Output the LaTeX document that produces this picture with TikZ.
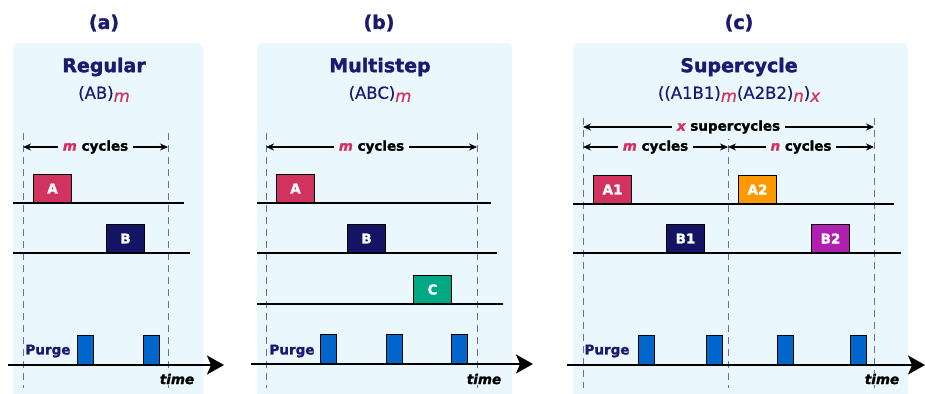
\documentclass[tikz,border=0pt]{standalone}
\usepackage{fontspec}
\setmainfont{DejaVu Sans}[BoldFeatures={FakeBold=1.6}, BoldItalicFeatures={FakeBold=1.6}, UprightFeatures={FakeBold=0.6}, ItalicFeatures={FakeBold=0.6}]
\usetikzlibrary{arrows.meta}
\definecolor{panelbg}{RGB}{234,248,253}
\definecolor{navy}{RGB}{26,26,112}
\definecolor{crim}{RGB}{210,50,95}
\definecolor{bnavy}{RGB}{20,20,100}
\definecolor{cgreen}{RGB}{0,168,132}
\definecolor{aorange}{RGB}{255,153,0}
\definecolor{bpurple}{RGB}{176,32,176}
\definecolor{pblue}{RGB}{0,102,204}
\definecolor{dashcol}{RGB}{100,110,180}
\newcommand{\sub}[1]{\raisebox{-3pt}{\textcolor{crim}{\itshape #1}}}
\newcommand{\cnt}[1]{\textcolor{crim}{\itshape #1}}
\begin{document}
\begin{tikzpicture}[x=1pt, y=-1pt,
		every node/.style={font=\bfseries\fontsize{13.5}{16}\selectfont},
		panel/.style={fill=panelbg, rounded corners=6pt},
		heading/.style={text=navy, font=\bfseries\fontsize{19}{22}\selectfont},
		formula/.style={text=navy, font=\fontsize{16.5}{19}\selectfont},
		pulse/.style={draw=black, line width=1pt, anchor=south west, minimum width=38pt, minimum height=28pt, inner sep=0pt, text=white},
		purge/.style={draw=black, line width=1pt, fill=pblue, anchor=south west, minimum width=16pt, minimum height=29pt, inner sep=0pt},
		track/.style={line width=2pt},
		limit/.style={draw=dashcol, dash pattern=on 7pt off 5pt, line width=0.9pt},
		span/.style={{Stealth[length=8pt,width=7pt]}-{Stealth[length=8pt,width=7pt]}, line width=1.2pt},
		spantext/.style={fill=panelbg, inner sep=5pt},
		timeaxis/.style={-{Stealth[length=17pt,width=19pt,inset=4pt]}, line width=2pt},
		timelabel/.style={fill=panelbg, inner sep=1pt, font=\bfseries\itshape\fontsize{13.5}{16}\selectfont},
	]
	\useasboundingbox (0,0) rectangle (925,393);
	\fill[panel] (13,43) rectangle (203,420);
	\fill[panel] (257,43) rectangle (512,420);
	\fill[panel] (573,43) rectangle (908,420);

	\node[heading] (labela) at (104,23) {(a)};
	\node[heading] (labelb) at (379,23) {(b)};
	\node[heading] (labelc) at (739,23) {(c)};
	\node[heading] (namea) at (104,67) {Regular};
	\node[heading] (nameb) at (380,67) {Multistep};
	\node[heading] (namec) at (739,67) {Supercycle};
	\node[formula] (forma) at (104,94) {(AB)\sub{m}};
	\node[formula] (formb) at (380,94) {(ABC)\sub{m}};
	\node[formula] (formc) at (739,94) {((A1B1)\sub{m}(A2B2)\sub{n})\sub{x}};

	% regular
	\coordinate (a-l) at (23,147);
	\coordinate (a-r) at (168,147);
	\coordinate (a-lt) at (23,133);
	\coordinate (a-lb) at (23,388);
	\coordinate (a-rt) at (168,133);
	\coordinate (a-rb) at (168,388);
	\draw[limit] (a-lt) -- (a-lb);
	\draw[limit] (a-rt) -- (a-rb);
	\draw[span] (a-l) -- node[spantext] (spana) {\cnt{m} cycles} (a-r);
	\coordinate (a1s) at (13,203);
	\coordinate (a1e) at (184,203);
	\coordinate (a2s) at (13,253);
	\coordinate (a2e) at (190,253);
	\draw[track] (a1s) -- (a1e);
	\draw[track] (a2s) -- (a2e);
	\node[pulse, fill=crim] (pa-A) at (33,203) {A};
	\node[pulse, fill=bnavy] (pa-B) at (106,253) {B};
	\coordinate (a-ts) at (8,365);
	\coordinate (a-te) at (224,365);
	\draw[timeaxis] (a-ts) -- (a-te);
	\node[purge] (purgea1) at (77,365) {};
	\node[purge] (purgea2) at (143,365) {};
	\node[text=navy] (purgea) at (48,351) {Purge};
	\node[timelabel] (timea) at (177,379) {time};

	% multistep
	\coordinate (b-l) at (266,147);
	\coordinate (b-r) at (477,147);
	\coordinate (b-lt) at (266,133);
	\coordinate (b-lb) at (266,388);
	\coordinate (b-rt) at (477,133);
	\coordinate (b-rb) at (477,388);
	\draw[limit] (b-lt) -- (b-lb);
	\draw[limit] (b-rt) -- (b-rb);
	\draw[span] (b-l) -- node[spantext] (spanb) {\cnt{m} cycles} (b-r);
	\coordinate (b1s) at (257,203);
	\coordinate (b1e) at (491,203);
	\coordinate (b2s) at (257,253);
	\coordinate (b2e) at (497,253);
	\coordinate (b3s) at (257,304);
	\coordinate (b3e) at (503,304);
	\draw[track] (b1s) -- (b1e);
	\draw[track] (b2s) -- (b2e);
	\draw[track] (b3s) -- (b3e);
	\node[pulse, fill=crim] (pb-A) at (276,203) {A};
	\node[pulse, fill=bnavy] (pb-B) at (347,253) {B};
	\node[pulse, fill=cgreen] (pb-C) at (413,304) {C};
	\coordinate (b-ts) at (251,364);
	\coordinate (b-te) at (533,364);
	\draw[timeaxis] (b-ts) -- (b-te);
	\node[purge] (purgeb1) at (320,364) {};
	\node[purge] (purgeb2) at (386,364) {};
	\node[purge] (purgeb3) at (451,364) {};
	\node[text=navy] (purgeb) at (292,351) {Purge};
	\node[timelabel] (timeb) at (484,379) {time};

	% supercycle
	\coordinate (c-l) at (583,147);
	\coordinate (c-m) at (728,147);
	\coordinate (c-r) at (874,147);
	\coordinate (c-xl) at (583,127);
	\coordinate (c-xr) at (874,127);
	\coordinate (c-lt) at (583,118);
	\coordinate (c-lb) at (583,388);
	\coordinate (c-mt) at (728,133);
	\coordinate (c-mb) at (728,388);
	\coordinate (c-rt) at (874,118);
	\coordinate (c-rb) at (874,388);
	\draw[limit] (c-lt) -- (c-lb);
	\draw[limit] (c-mt) -- (c-mb);
	\draw[limit] (c-rt) -- (c-rb);
	\draw[span] (c-xl) -- node[spantext] (spanx) {\cnt{x} supercycles} (c-xr);
	\draw[span] (c-l) -- node[spantext] (spanm) {\cnt{m} cycles} (c-m);
	\draw[span] (c-m) -- node[spantext] (spann) {\cnt{n} cycles} (c-r);
	\coordinate (c1s) at (573,204);
	\coordinate (c1e) at (894,204);
	\coordinate (c2s) at (573,253);
	\coordinate (c2e) at (901,253);
	\draw[track] (c1s) -- (c1e);
	\draw[track] (c2s) -- (c2e);
	\node[pulse, fill=crim] (pc-A1) at (593,204) {A1};
	\node[pulse, fill=aorange] (pc-A2) at (738,204) {A2};
	\node[pulse, fill=bnavy] (pc-B1) at (666,253) {B1};
	\node[pulse, fill=bpurple] (pc-B2) at (811,253) {B2};
	\coordinate (c-ts) at (567,365);
	\coordinate (c-te) at (925,365);
	\draw[timeaxis] (c-ts) -- (c-te);
	\node[purge] (purgec1) at (638,365) {};
	\node[purge] (purgec2) at (706,365) {};
	\node[purge] (purgec3) at (777,365) {};
	\node[purge] (purgec4) at (850,365) {};
	\node[text=navy] (purgec) at (607,351) {Purge};
	\node[timelabel] (timec) at (882,379) {time};
\end{tikzpicture}
\end{document}
